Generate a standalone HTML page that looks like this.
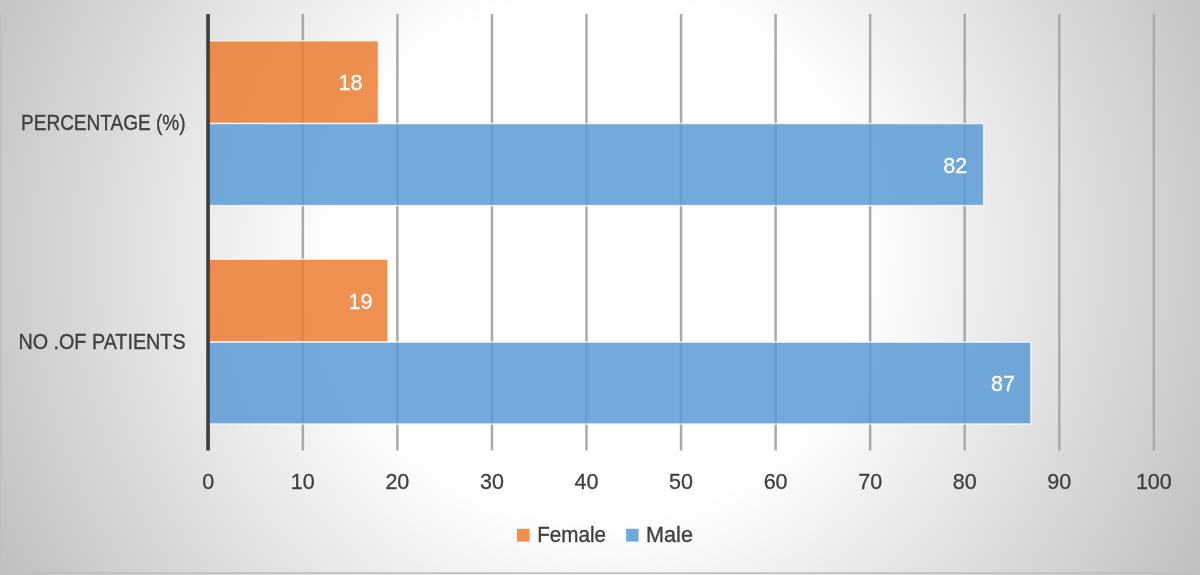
<!DOCTYPE html>
<html lang="en"><head><meta charset="utf-8"><title>Chart</title>
<style>
html,body{margin:0;padding:0;background:#fff;}
body{width:1200px;height:575px;overflow:hidden;}
svg{display:block;}
text{font-family:"Liberation Sans",Arial,sans-serif;}
</style></head><body>
<svg width="1200" height="575" viewBox="0 0 1200 575">
<defs>
<radialGradient id="bg" gradientUnits="userSpaceOnUse" cx="600" cy="255" r="683">
<stop offset="0" stop-color="#ffffff"/>
<stop offset="0.3836" stop-color="#ffffff"/>
<stop offset="1" stop-color="#bfbfbf"/>
</radialGradient>
</defs>
<rect x="0" y="0" width="1200" height="575" fill="url(#bg)"/>
<rect x="0" y="14" width="1.6" height="561" fill="#bfbfbf"/>
<rect x="30" y="572.3" width="1170" height="1.7" fill="#bfbfbf"/>
<line x1="302.81" y1="14" x2="302.81" y2="450.5" stroke="#aaaaaa" stroke-width="2.5"/>
<line x1="397.37" y1="14" x2="397.37" y2="450.5" stroke="#aaaaaa" stroke-width="2.5"/>
<line x1="491.93" y1="14" x2="491.93" y2="450.5" stroke="#aaaaaa" stroke-width="2.5"/>
<line x1="586.49" y1="14" x2="586.49" y2="450.5" stroke="#aaaaaa" stroke-width="2.5"/>
<line x1="681.05" y1="14" x2="681.05" y2="450.5" stroke="#aaaaaa" stroke-width="2.5"/>
<line x1="775.61" y1="14" x2="775.61" y2="450.5" stroke="#aaaaaa" stroke-width="2.5"/>
<line x1="870.17" y1="14" x2="870.17" y2="450.5" stroke="#aaaaaa" stroke-width="2.5"/>
<line x1="964.73" y1="14" x2="964.73" y2="450.5" stroke="#aaaaaa" stroke-width="2.5"/>
<line x1="1059.29" y1="14" x2="1059.29" y2="450.5" stroke="#aaaaaa" stroke-width="2.5"/>
<line x1="1153.85" y1="14" x2="1153.85" y2="450.5" stroke="#aaaaaa" stroke-width="2.5"/>
<rect x="208.25" y="40.75" width="170.21" height="82.80" fill="#ED7D31" fill-opacity="0.85" stroke="#fff" stroke-opacity="0.75" stroke-width="1.5"/>
<rect x="208.25" y="123.55" width="775.39" height="82.05" fill="#5B9BD5" fill-opacity="0.85" stroke="#fff" stroke-opacity="0.75" stroke-width="1.5"/>
<rect x="208.25" y="259.15" width="179.66" height="83.00" fill="#ED7D31" fill-opacity="0.85" stroke="#fff" stroke-opacity="0.75" stroke-width="1.5"/>
<rect x="208.25" y="342.15" width="822.67" height="81.85" fill="#5B9BD5" fill-opacity="0.85" stroke="#fff" stroke-opacity="0.75" stroke-width="1.5"/>
<rect x="206.2" y="14" width="3.7" height="436.5" fill="#404040"/>
<text x="362.4" y="90.4" font-size="21.5" fill="#fff" stroke="#fff" stroke-width="0.3" text-anchor="end">18</text>
<text x="967.2" y="172.8" font-size="21.5" fill="#fff" stroke="#fff" stroke-width="0.3" text-anchor="end">82</text>
<text x="372.4" y="308.9" font-size="21.5" fill="#fff" stroke="#fff" stroke-width="0.3" text-anchor="end">19</text>
<text x="1015" y="391" font-size="21.5" fill="#fff" stroke="#fff" stroke-width="0.3" text-anchor="end">87</text>
<text x="208.25" y="489" font-size="21.5" fill="#404040" stroke="#404040" stroke-width="0.3" text-anchor="middle">0</text>
<text x="302.81" y="489" font-size="21.5" fill="#404040" stroke="#404040" stroke-width="0.3" text-anchor="middle">10</text>
<text x="397.37" y="489" font-size="21.5" fill="#404040" stroke="#404040" stroke-width="0.3" text-anchor="middle">20</text>
<text x="491.93" y="489" font-size="21.5" fill="#404040" stroke="#404040" stroke-width="0.3" text-anchor="middle">30</text>
<text x="586.49" y="489" font-size="21.5" fill="#404040" stroke="#404040" stroke-width="0.3" text-anchor="middle">40</text>
<text x="681.05" y="489" font-size="21.5" fill="#404040" stroke="#404040" stroke-width="0.3" text-anchor="middle">50</text>
<text x="775.61" y="489" font-size="21.5" fill="#404040" stroke="#404040" stroke-width="0.3" text-anchor="middle">60</text>
<text x="870.17" y="489" font-size="21.5" fill="#404040" stroke="#404040" stroke-width="0.3" text-anchor="middle">70</text>
<text x="964.73" y="489" font-size="21.5" fill="#404040" stroke="#404040" stroke-width="0.3" text-anchor="middle">80</text>
<text x="1059.29" y="489" font-size="21.5" fill="#404040" stroke="#404040" stroke-width="0.3" text-anchor="middle">90</text>
<text x="1153.85" y="489" font-size="21.5" fill="#404040" stroke="#404040" stroke-width="0.3" text-anchor="middle">100</text>
<text x="21" y="130.4" font-size="21.5" fill="#404040" stroke="#404040" stroke-width="0.35" textLength="164.6" lengthAdjust="spacingAndGlyphs">PERCENTAGE (%)</text>
<text x="18.4" y="348.6" font-size="21.5" fill="#404040" stroke="#404040" stroke-width="0.35" textLength="167.2" lengthAdjust="spacingAndGlyphs">NO .OF PATIENTS</text>
<rect x="517" y="528.8" width="12.6" height="12.8" fill="#ED7D31" fill-opacity="0.85"/>
<text x="537.2" y="541.7" font-size="21.5" fill="#404040" stroke="#404040" stroke-width="0.35" textLength="68.8" lengthAdjust="spacingAndGlyphs">Female</text>
<rect x="626.1" y="528.8" width="12.4" height="12.8" fill="#5B9BD5" fill-opacity="0.85"/>
<text x="646.1" y="541.7" font-size="21.5" fill="#404040" stroke="#404040" stroke-width="0.35" textLength="46.8" lengthAdjust="spacingAndGlyphs">Male</text>
</svg>
</body></html>
